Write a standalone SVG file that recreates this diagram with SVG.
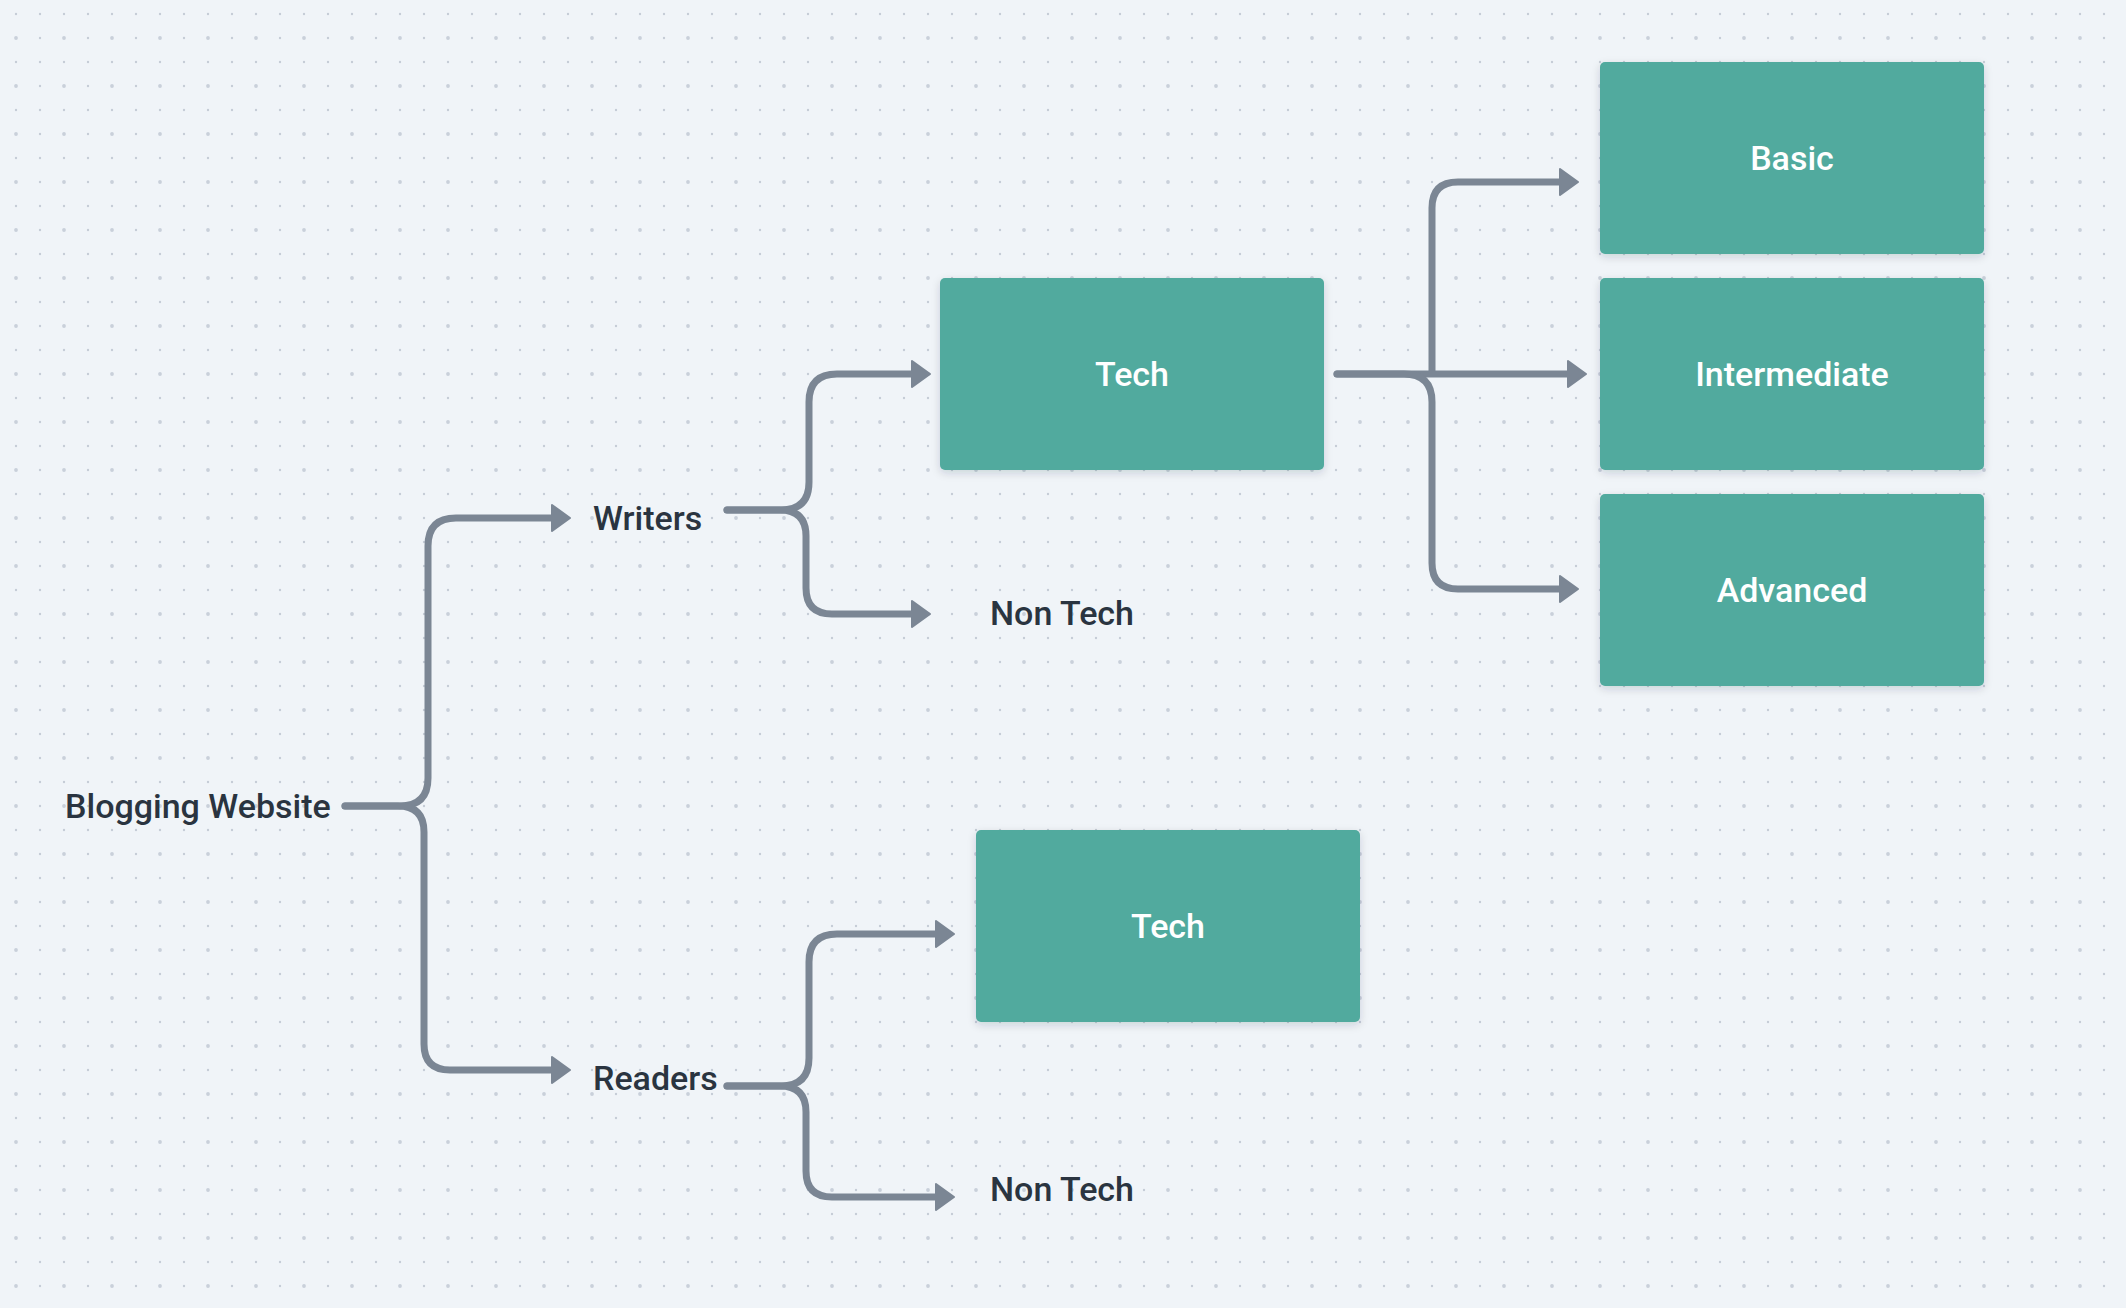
<svg xmlns="http://www.w3.org/2000/svg" width="2126" height="1308" viewBox="0 0 2126 1308">
  <style>
    .lbl { font-family: Roboto, "Liberation Sans", sans-serif; font-size: 34px; font-weight: 500; fill: #2a3440; }
    .box { fill: #51aa9e; filter: url(#shadow); }
    .boxlbl { font-family: Roboto, "Liberation Sans", sans-serif; font-size: 34px; font-weight: 500; fill: #ffffff; text-anchor: middle; }
    .conn { fill: none; stroke: #7b8694; stroke-width: 7; stroke-linecap: round; marker-end: url(#arrow); }
  </style>
  <defs>
    <pattern id="dots" x="16" y="14" width="48" height="48" patternUnits="userSpaceOnUse">
      <circle cx="0" cy="0" r="1.2" fill="#c5ccd6"/>
      <circle cx="24" cy="0" r="1.2" fill="#c5ccd6"/>
      <circle cx="48" cy="0" r="1.2" fill="#c5ccd6"/>
      <circle cx="0" cy="48" r="1.2" fill="#c5ccd6"/>
      <circle cx="24" cy="48" r="1.2" fill="#c5ccd6"/>
      <circle cx="48" cy="48" r="1.2" fill="#c5ccd6"/>
      <circle cx="0" cy="24" r="1.9" fill="#c9d0da"/>
      <circle cx="48" cy="24" r="1.9" fill="#c9d0da"/>
      <circle cx="24" cy="24" r="1.2" fill="#c5ccd6"/>
    </pattern>
    <filter id="shadow" x="-10%" y="-10%" width="120%" height="130%">
      <feDropShadow dx="0" dy="3" stdDeviation="4" flood-color="#1e2a38" flood-opacity="0.16"/>
    </filter>
    <marker id="arrow" viewBox="0 0 20 28" markerWidth="20" markerHeight="28" refX="1" refY="14" orient="auto" markerUnits="userSpaceOnUse">
      <path d="M1,1 L19,14 L1,27 Z" fill="#7b8694" stroke="#7b8694" stroke-width="2" stroke-linejoin="round"/>
    </marker>
  </defs>

  <rect x="0" y="0" width="2126" height="1308" fill="#f0f4f8"/>
  <rect x="0" y="0" width="2126" height="1308" fill="url(#dots)"/>

  <g id="connectors">
    <path class="conn" d="M345,806 H400 Q428,806 428,778 V546 Q428,518 456,518 H552"/>
    <path class="conn" d="M345,806 H398 Q424,806 424,832 V1044 Q424,1070 450,1070 H552"/>
    <path class="conn" d="M727,510 H781 Q809,510 809,482 V402 Q809,374 837,374 H912"/>
    <path class="conn" d="M727,510 H780 Q806,510 806,536 V588 Q806,614 832,614 H912"/>
    <path class="conn" d="M727,1086 H781 Q809,1086 809,1058 V962 Q809,934 837,934 H936"/>
    <path class="conn" d="M727,1086 H780 Q806,1086 806,1112 V1171 Q806,1197 832,1197 H936"/>
    <path class="conn" d="M1337,374 H1568"/>
    <path class="conn" style="stroke-linecap:butt" d="M1432,374 V208 Q1432,182 1458,182 H1560"/>
    <path class="conn" d="M1337,374 H1404 Q1432,374 1432,402 V563 Q1432,589 1458,589 H1560"/>
  </g>

  <g id="node-blogging">
    <text class="lbl" x="65" y="818">Blogging Website</text>
  </g>
  <g id="node-writers">
    <text class="lbl" x="593" y="530">Writers</text>
  </g>
  <g id="node-readers">
    <text class="lbl" x="593" y="1090">Readers</text>
  </g>
  <g id="node-writers-tech">
    <rect class="box" x="940" y="278" width="384" height="192" rx="5"/>
    <text class="boxlbl" x="1132" y="386">Tech</text>
  </g>
  <g id="node-writers-nontech">
    <text class="lbl" x="990" y="625">Non Tech</text>
  </g>
  <g id="node-basic">
    <rect class="box" x="1600" y="62" width="384" height="192" rx="5"/>
    <text class="boxlbl" x="1792" y="170">Basic</text>
  </g>
  <g id="node-intermediate">
    <rect class="box" x="1600" y="278" width="384" height="192" rx="5"/>
    <text class="boxlbl" x="1792" y="386">Intermediate</text>
  </g>
  <g id="node-advanced">
    <rect class="box" x="1600" y="494" width="384" height="192" rx="5"/>
    <text class="boxlbl" x="1792" y="602">Advanced</text>
  </g>
  <g id="node-readers-tech">
    <rect class="box" x="976" y="830" width="384" height="192" rx="5"/>
    <text class="boxlbl" x="1168" y="938">Tech</text>
  </g>
  <g id="node-readers-nontech">
    <text class="lbl" x="990" y="1201">Non Tech</text>
  </g>
</svg>
